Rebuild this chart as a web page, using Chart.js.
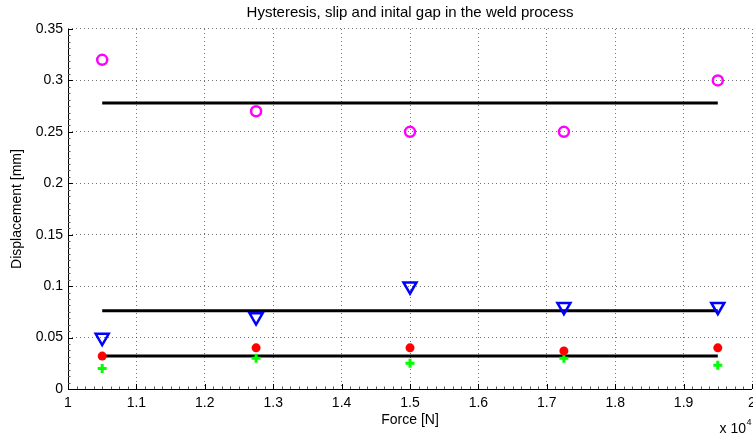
<!DOCTYPE html>
<html>
<head>
<meta charset="utf-8">
<script src="https://cdn.jsdelivr.net/npm/chart.js@4"></script>
<style>
html,body{margin:0;padding:0;background:#fff;}
#wrap{width:753px;height:437px;position:relative;}
</style>
</head>
<body>
<div id="wrap"><canvas id="c" width="753" height="437"></canvas></div>
<script>
// Force values (x 10^4 N)
const forceX = [1.05, 1.275, 1.5, 1.725, 1.95];
// Series values [mm]
const hysteresis = [0.32, 0.27, 0.25, 0.25, 0.30];
const slip = [0.05, 0.07, 0.10, 0.08, 0.08];
const gapRed = [0.032, 0.04, 0.04, 0.037, 0.04];
const gapGreen = [0.02, 0.03, 0.025, 0.03, 0.023];
// Mean levels (horizontal black lines) and their x extent
const meanLevels = [0.278, 0.076, 0.032];
const lineX = [1.05, 1.95];
// Tick labels
const xTickLabels = ['1','1.1','1.2','1.3','1.4','1.5','1.6','1.7','1.8','1.9','2'];
const yTickLabels = ['0','0.05','0.1','0.15','0.2','0.25','0.3','0.35'];
const titleText = 'Hysteresis, slip and inital gap in the weld process';
const xLabel = 'Force [N]';
const yLabel = 'Displacement [mm]';

const FONT = 'Liberation Sans, Arial, Helvetica, sans-serif';
const pts = (ys) => forceX.map((x, i) => ({x: x, y: ys[i]}));

const lineSets = meanLevels.map(v => ({
  type: 'line',
  data: lineX.map(x => ({x: x, y: v})),
  borderColor: '#000',
  borderWidth: 3,
  pointRadius: 0,
  showLine: true,
  fill: false,
  order: 10
}));

const matlabPlugin = {
  id: 'matlab',
  afterDraw(chart) {
    const ctx = chart.ctx;
    const ca = chart.chartArea;
    const xs = chart.scales.x, ys = chart.scales.y;
    ctx.save();
    ctx.strokeStyle = '#000';
    ctx.lineWidth = 1;
    ctx.setLineDash([]);
    ctx.beginPath();
    ctx.moveTo(ca.left + 0.5, ca.top);
    ctx.lineTo(ca.left + 0.5, ca.bottom + 0.5);
    ctx.lineTo(ca.right, ca.bottom + 0.5);
    ctx.stroke();
    // major ticks (inward)
    ctx.beginPath();
    for (let i = 0; i < xTickLabels.length; i++) {
      const px = Math.round(xs.getPixelForValue(1 + i * 0.1)) + 0.5;
      ctx.moveTo(px, ca.bottom); ctx.lineTo(px, ca.bottom - 5);
    }
    for (let i = 0; i < yTickLabels.length; i++) {
      const py = Math.round(ys.getPixelForValue(i * 0.05)) + 0.5;
      ctx.moveTo(ca.left, py); ctx.lineTo(ca.left + 5, py);
    }
    ctx.stroke();
    // minor ticks
    ctx.strokeStyle = '#555';
    ctx.beginPath();
    for (let i = 0; i <= 80; i++) {
      if (i % 8 === 0) continue;
      const px = Math.round(xs.getPixelForValue(1 + i * 0.0125)) + 0.5;
      ctx.moveTo(px, ca.bottom); ctx.lineTo(px, ca.bottom - 2.5);
    }
    for (let i = 0; i <= 56; i++) {
      if (i % 8 === 0) continue;
      const py = Math.round(ys.getPixelForValue(i * 0.00625)) + 0.5;
      ctx.moveTo(ca.left, py); ctx.lineTo(ca.left + 2.5, py);
    }
    ctx.stroke();
    // title
    ctx.fillStyle = '#000';
    ctx.font = '15px ' + FONT;
    ctx.textAlign = 'center';
    ctx.textBaseline = 'middle';
    ctx.fillText(titleText, (ca.left + ca.right) / 2, 13);
    // exponent
    ctx.textAlign = 'right';
    ctx.textBaseline = 'alphabetic';
    ctx.font = '14px ' + FONT;
    ctx.fillText('x 10', 746, 433);
    ctx.font = '9px ' + FONT;
    ctx.textAlign = 'left';
    ctx.fillText('4', 746.5, 425);
    ctx.restore();
  }
};

new Chart(document.getElementById('c'), {
  type: 'scatter',
  data: {
    datasets: [
      {data: pts(hysteresis), pointStyle: 'circle', pointRadius: 5, borderWidth: 2.5, borderColor: '#ff00ff', backgroundColor: 'rgba(0,0,0,0)', order: 1},
      {data: pts(slip), pointStyle: 'triangle', rotation: 180, pointRotation: 180, pointRadius: 7.5, borderWidth: 2.5, borderColor: '#0000ff', backgroundColor: 'rgba(0,0,0,0)', order: 1},
      {data: pts(gapRed), pointStyle: 'circle', pointRadius: 4.5, borderWidth: 0, borderColor: '#ff0000', backgroundColor: '#ff0000', order: 1},
      {data: pts(gapGreen), pointStyle: 'cross', pointRadius: 4.5, borderWidth: 3, borderColor: '#00ff00', backgroundColor: '#00ff00', order: 1},
      ...lineSets
    ]
  },
  options: {
    responsive: false,
    animation: false,
    layout: {autoPadding: false, padding: {top: 29, right: 1, left: 0, bottom: 0}},
    plugins: {legend: {display: false}, tooltip: {enabled: false}, title: {display: false}},
    scales: {
      x: {
        type: 'linear', min: 1, max: 2,
        afterBuildTicks(s) { s.ticks = xTickLabels.map((l, i) => ({value: 1 + i * 0.1})); },
        afterFit(s) { s.height = 48; s.paddingLeft = 0; s.paddingRight = 0; },
        ticks: {
          autoSkip: false, maxRotation: 0, padding: 6, color: '#000',
          font: {family: FONT, size: 14},
          callback: (v, i) => xTickLabels[i]
        },
        grid: {color: 'rgba(0,0,0,0.55)', lineWidth: 1, drawTicks: false},
        border: {display: false, dash: [1, 3]},
        title: {display: true, text: xLabel, color: '#000', font: {family: FONT, size: 14}, padding: {top: 0, bottom: 8}}
      },
      y: {
        type: 'linear', min: 0, max: 0.35,
        afterBuildTicks(s) { s.ticks = yTickLabels.map((l, i) => ({value: i * 0.05})); },
        afterFit(s) { s.width = 68; s.paddingTop = 0; s.paddingBottom = 0; },
        ticks: {
          autoSkip: false, padding: 5, color: '#000',
          font: {family: FONT, size: 14},
          callback: (v, i) => yTickLabels[i]
        },
        grid: {color: 'rgba(0,0,0,0.55)', lineWidth: 1, drawTicks: false},
        border: {display: false, dash: [1, 3]},
        title: {display: true, text: yLabel, color: '#000', font: {family: FONT, size: 14}, padding: {top: 9, bottom: 0}}
      }
    }
  },
  plugins: [matlabPlugin]
});
</script>
</body>
</html>
